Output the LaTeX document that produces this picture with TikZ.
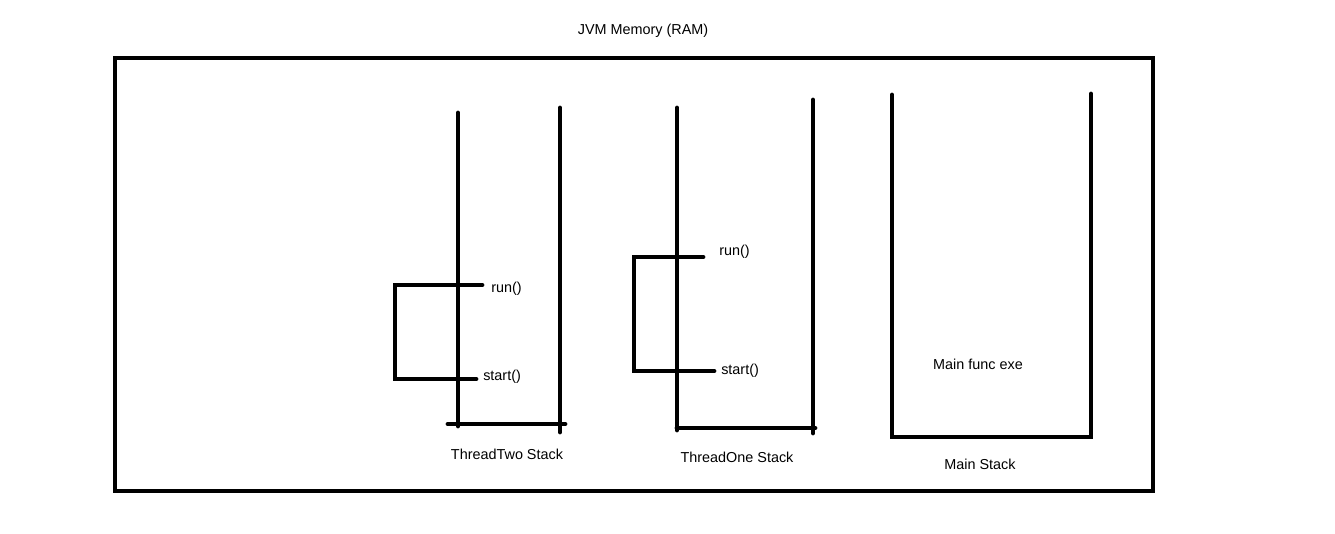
\documentclass[tikz,border=0pt]{standalone}
\usepackage{fontspec}
\setmainfont{Liberation Sans}
\begin{document}
\begin{tikzpicture}[x=0.75pt,y=-0.75pt,
  thick line/.style={line width=3.6pt,line cap=round,line join=miter},
  lbl/.style={font=\fontsize{10.8pt}{13pt}\selectfont,inner sep=0pt},
  tlbl/.style={lbl,anchor=west}]
\useasboundingbox (0,0) rectangle (1335,534);
% outer memory box
\draw[line width=3.6pt] (115,58) rectangle (1153,491);
\node[lbl] (title) at (643,31) {JVM Memory (RAM)};
% ThreadTwo stack
\coordinate (t2lt) at (458,113); \coordinate (t2lb) at (458,426);
\coordinate (t2rt) at (560,108); \coordinate (t2rb) at (560,432);
\coordinate (t2bl) at (448,424); \coordinate (t2br) at (565,424);
\draw[thick line] (t2lt) -- (t2lb);
\draw[thick line] (t2rt) -- (t2rb);
\draw[thick line] (t2bl) -- (t2br);
\coordinate (t2a) at (482,285); \coordinate (t2b) at (395,285);
\coordinate (t2c) at (395,379); \coordinate (t2d) at (476,379);
\draw[thick line] (t2a) -- (t2b) -- (t2c) -- (t2d);
\node[tlbl] (t2run) at (491,289) {run()};
\node[tlbl] (t2start) at (483,377) {start()};
\node[lbl] (t2name) at (507,454) {ThreadTwo Stack};
% ThreadOne stack
\coordinate (t1lt) at (677,108); \coordinate (t1lb) at (677,430);
\coordinate (t1rt) at (813,100); \coordinate (t1rb) at (813,433);
\coordinate (t1bl) at (677,428); \coordinate (t1br) at (815,428);
\draw[thick line] (t1lt) -- (t1lb);
\draw[thick line] (t1rt) -- (t1rb);
\draw[thick line] (t1bl) -- (t1br);
\coordinate (t1a) at (703,257); \coordinate (t1b) at (634,257);
\coordinate (t1c) at (634,371); \coordinate (t1d) at (714,371);
\draw[thick line] (t1a) -- (t1b) -- (t1c) -- (t1d);
\node[tlbl] (t1run) at (719,252) {run()};
\node[tlbl] (t1start) at (721,371) {start()};
\node[lbl] (t1name) at (737,457) {ThreadOne Stack};
% Main stack
\coordinate (mlt) at (892,95); \coordinate (mrt) at (1091,94);
\coordinate (mlb) at (892,437); \coordinate (mrb) at (1091,437);
\draw[thick line] (mlt) -- (mlb) -- (mrb) -- (mrt);
\node[lbl] (mfunc) at (978,364) {Main func exe};
\node[lbl] (mname) at (980,464) {Main Stack};
\end{tikzpicture}
\end{document}
